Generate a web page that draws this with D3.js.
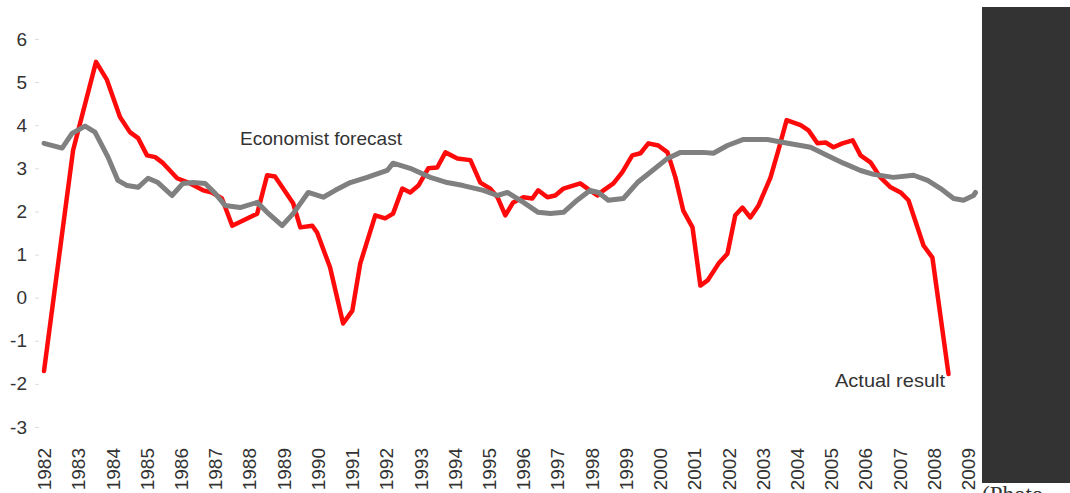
<!DOCTYPE html>
<html lang="en">
<head>
    <meta charset="UTF-8">
    <title>Economist forecast vs actual result</title>
    <script src="https://d3js.org/d3.v7.min.js"></script>
    <style>
        body { margin: 0; background: #fff; }
        text { font-family: "Liberation Sans", Arial, sans-serif; }
        .line { fill: none; stroke-linejoin: round; stroke-linecap: round; }
    </style>
</head>
<body>
<svg width="1070" height="493">
    <g id="axes"></g>
    <g id="lines"></g>
    <g id="labels"></g>
</svg>
<script type="text/javascript">
    // years shown on the x axis
    const years = d3.range(1982, 2010);
    const yTicks = [-3, -2, -1, 0, 1, 2, 3, 4, 5, 6];

    // actual result (red)
    const actualT = [1982.00, 1982.85, 1983.52, 1983.84, 1984.22, 1984.51, 1984.75, 1985.01, 1985.25, 1985.48,
        1985.89, 1986.27, 1986.65, 1986.91, 1987.20, 1987.50, 1988.23, 1988.52, 1988.75, 1989.28,
        1989.49, 1989.84, 1989.98, 1990.36, 1990.74, 1991.01, 1991.24, 1991.68, 1991.97, 1992.20,
        1992.47, 1992.70, 1992.94, 1993.23, 1993.49, 1993.73, 1994.08, 1994.46, 1994.75, 1995.04,
        1995.25, 1995.48, 1995.71, 1996.01, 1996.27, 1996.44, 1996.71, 1996.94, 1997.18, 1997.67,
        1997.88, 1998.17, 1998.35, 1998.64, 1998.90, 1999.19, 1999.43, 1999.66, 1999.95, 2000.22,
        2000.45, 2000.68, 2000.95, 2001.18, 2001.39, 2001.71, 2001.97, 2002.20, 2002.41, 2002.64,
        2002.88, 2003.23, 2003.46, 2003.70, 2004.11, 2004.34, 2004.60, 2004.84, 2005.07, 2005.33,
        2005.63, 2005.86, 2006.15, 2006.44, 2006.74, 2007.03, 2007.26, 2007.70, 2007.96, 2008.43];
    const actualV = [-1.70, 3.42, 5.47, 5.05, 4.19, 3.84, 3.70, 3.30, 3.26, 3.12,
        2.77, 2.65, 2.49, 2.44, 2.30, 1.67, 1.95, 2.84, 2.81, 2.19,
        1.63, 1.67, 1.51, 0.70, -0.60, -0.30, 0.79, 1.91, 1.84, 1.95,
        2.53, 2.44, 2.60, 3.00, 3.02, 3.37, 3.23, 3.19, 2.67, 2.53,
        2.33, 1.91, 2.21, 2.33, 2.30, 2.49, 2.33, 2.37, 2.53, 2.65,
        2.53, 2.37, 2.49, 2.65, 2.91, 3.30, 3.35, 3.58, 3.53, 3.37,
        2.79, 2.02, 1.63, 0.28, 0.40, 0.79, 1.02, 1.91, 2.09, 1.86,
        2.14, 2.79, 3.42, 4.12, 4.00, 3.88, 3.58, 3.60, 3.49, 3.58,
        3.65, 3.30, 3.14, 2.79, 2.56, 2.44, 2.26, 1.21, 0.93, -1.77];

    // economist forecast (grey)
    const forecastT = [1982.00, 1982.53, 1982.82, 1983.20, 1983.49, 1983.87, 1984.16, 1984.43, 1984.75, 1985.04,
        1985.33, 1985.74, 1986.06, 1986.36, 1986.71, 1987.00, 1987.29, 1987.73, 1988.23, 1988.52,
        1988.96, 1989.28, 1989.72, 1990.16, 1990.51, 1990.95, 1991.44, 1992.03, 1992.20, 1992.70,
        1993.29, 1993.78, 1994.25, 1994.84, 1995.25, 1995.54, 1996.01, 1996.44, 1996.80, 1997.18,
        1997.58, 1997.96, 1998.20, 1998.49, 1998.93, 1999.34, 1999.78, 2000.22, 2000.60, 2000.80,
        2001.27, 2001.56, 2001.97, 2002.44, 2003.14, 2003.61, 2004.40, 2004.89, 2005.36, 2005.86,
        2006.24, 2006.82, 2007.41, 2007.82, 2008.20, 2008.58, 2008.87, 2009.16, 2009.22];
    const forecastV = [3.58, 3.47, 3.81, 3.98, 3.84, 3.26, 2.72, 2.60, 2.56, 2.77,
        2.67, 2.37, 2.65, 2.67, 2.65, 2.42, 2.14, 2.09, 2.21, 1.98,
        1.67, 1.95, 2.44, 2.33, 2.49, 2.67, 2.79, 2.95, 3.12, 3.00,
        2.79, 2.67, 2.60, 2.49, 2.37, 2.44, 2.21, 1.98, 1.95, 1.98,
        2.26, 2.49, 2.44, 2.26, 2.30, 2.67, 2.95, 3.23, 3.37, 3.37,
        3.37, 3.35, 3.53, 3.67, 3.67, 3.60, 3.49, 3.30, 3.12, 2.95,
        2.86, 2.79, 2.84, 2.72, 2.53, 2.30, 2.26, 2.37, 2.44];

    function draw() {
        let svg = d3.select("svg");

        let x = d3.scaleLinear().domain([1982, 2009]).range([44, 968]);
        let y = d3.scaleLinear().domain([-3, 6]).range([427, 39]);

        // y axis: labels only, faint ticks (plain hyphen for negatives)
        let yAxis = d3.select("#axes").append("g")
            .attr("transform", "translate(39,0)")
            .call(d3.axisLeft(y).tickValues(yTicks).tickSize(4).tickPadding(8).tickFormat(d => String(d)));
        yAxis.select(".domain").remove();
        yAxis.selectAll("line").attr("stroke", "#ddd");
        yAxis.selectAll("text")
            .attr("fill", "#333")
            .style("font-size", "19px")
            .style("font-family", "'Liberation Sans', Arial, sans-serif");

        // x axis: rotated year labels
        let xAxis = d3.select("#axes").append("g")
            .attr("transform", "translate(0,440)")
            .call(d3.axisBottom(x).tickValues(years).tickSize(0).tickFormat(d => String(d)));
        xAxis.select(".domain").remove();
        xAxis.selectAll("text")
            .attr("transform", "rotate(-90)")
            .attr("text-anchor", "end")
            .attr("x", -8)
            .attr("y", 0)
            .attr("dy", "0.35em")
            .attr("fill", "#333")
            .style("font-size", "19px")
            .style("font-family", "'Liberation Sans', Arial, sans-serif");

        let line = d3.line()
            .x(d => x(d[0]))
            .y(d => y(d[1]));

        let actual = d3.zip(actualT, actualV);
        let forecast = d3.zip(forecastT, forecastV);

        d3.select("#lines").append("path")
            .datum(actual)
            .attr("class", "line")
            .attr("d", line)
            .attr("stroke", "#ff0a0a")
            .attr("stroke-width", 4.5);

        d3.select("#lines").append("path")
            .datum(forecast)
            .attr("class", "line")
            .attr("d", line)
            .attr("stroke", "#808080")
            .attr("stroke-width", 5);

        // series labels
        let lab = d3.select("#labels");
        lab.append("text")
            .attr("x", 240).attr("y", 145)
            .attr("textLength", 162)
            .attr("lengthAdjust", "spacingAndGlyphs")
            .attr("fill", "#333")
            .style("font-size", "19px")
            .text("Economist forecast");
        lab.append("text")
            .attr("x", 835).attr("y", 387)
            .attr("textLength", 110)
            .attr("lengthAdjust", "spacingAndGlyphs")
            .attr("fill", "#333")
            .style("font-size", "19px")
            .text("Actual  result");

        // dark panel on the right with caption cut off at the bottom
        svg.append("rect")
            .attr("x", 982).attr("y", 7)
            .attr("width", 88).attr("height", 476)
            .attr("fill", "#333333");
        svg.append("text")
            .attr("x", 982).attr("y", 502)
            .attr("fill", "#333")
            .style("font-family", "'Liberation Serif', 'DejaVu Serif', serif")
            .style("font-size", "23px")
            .text("(Photo");
    }
    draw();
</script>
</body>
</html>
